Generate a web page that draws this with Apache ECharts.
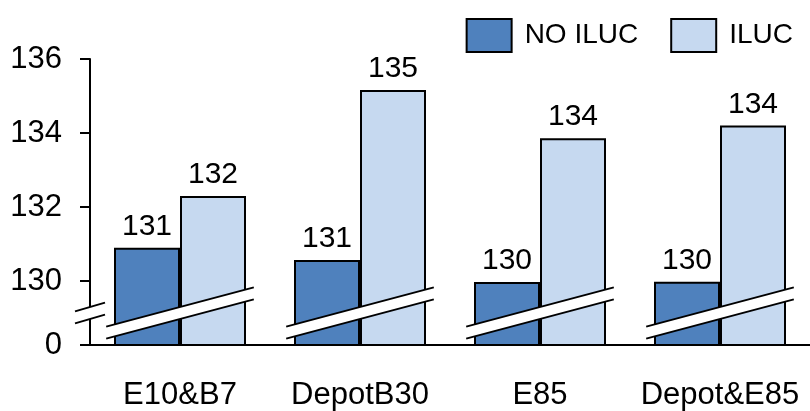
<!DOCTYPE html>
<html>
<head>
<meta charset="utf-8">
<script src="https://cdn.jsdelivr.net/npm/echarts@6/dist/echarts.min.js"></script>
<style>
  html, body { margin: 0; padding: 0; background: #fff; }
  #chart { width: 810px; height: 411px; }
</style>
</head>
<body>
<div id="chart"></div>
<script>
// Fuel pathways and their emission values, without and with ILUC
const categories = ['E10&B7', 'DepotB30', 'E85', 'Depot&E85'];
const noIluc = [130.9, 130.57, 129.97, 129.98];
const iluc = [132.3, 135.16, 133.86, 134.2];

// Broken value axis: the bottom of the axis stands for 0
const axisFloor = 128.27;
const axisTop = 136;
const tickValues = [axisFloor, 130, 132, 134, 136];
const tickLabels = ['0', '130', '132', '134', '136'];

// Level at which the break strips cross the bars
const breakLevel = 129.135;

const FONT = '"Liberation Sans", Arial, sans-serif';
const FS = 31;
const DARK = '#4f81bd';
const LIGHT = '#c6d9f0';

const chart = echarts.init(document.getElementById('chart'), null, { renderer: 'canvas' });

function strip(cx, cy, halfW, slope, thick) {
  const x1 = cx - halfW, x2 = cx + halfW;
  const yA1 = cy - thick / 2 + slope * halfW;  // upper edge, left end
  const yA2 = cy - thick / 2 - slope * halfW;  // upper edge, right end
  const yB1 = yA1 + thick, yB2 = yA2 + thick;
  return [
    { type: 'polygon', shape: { points: [[x1, yA1], [x2, yA2], [x2, yB2], [x1, yB1]] },
      style: { fill: '#fff', stroke: null } },
    { type: 'line', shape: { x1: x1, y1: yA1, x2: x2, y2: yA2 },
      style: { stroke: '#000', lineWidth: 2 } },
    { type: 'line', shape: { x1: x1, y1: yB1, x2: x2, y2: yB2 },
      style: { stroke: '#000', lineWidth: 2 } }
  ];
}

const valueLabel = {
  show: true, position: 'top', distance: 6,
  fontSize: 30, color: '#000', fontFamily: FONT,
  formatter: p => String(Math.round(p.value))
};

const option = {
  animation: false,
  backgroundColor: '#fff',
  textStyle: { fontFamily: FONT },
  legend: {
    data: ['NO ILUC', 'ILUC'],
    top: 13,
    right: 12,
    itemWidth: 45,
    itemHeight: 33,
    itemGap: 32,
    icon: 'rect',
    textStyle: { fontSize: 28, color: '#000', fontFamily: FONT, padding: [0, 0, 0, 8] }
  },
  grid: { left: 90, right: -8, top: 59, bottom: 66, containLabel: false },
  xAxis: {
    type: 'category',
    data: categories,
    axisLine: { lineStyle: { color: '#000', width: 2 } },
    axisTick: { show: false },
    axisLabel: { interval: 0, fontSize: FS, color: '#000', fontFamily: FONT, margin: 35 }
  },
  yAxis: {
    type: 'value',
    min: axisFloor,
    max: axisTop,
    splitLine: { show: false },
    axisLine: { show: true, lineStyle: { color: '#000', width: 2 } },
    axisTick: { show: true, length: 10, lineStyle: { color: '#000', width: 2 }, customValues: tickValues },
    axisLabel: {
      fontSize: FS, color: '#000', fontFamily: FONT, margin: 28,
      customValues: tickValues,
      formatter: function (v) {
        const i = tickValues.findIndex(t => Math.abs(t - v) < 1e-6);
        return i >= 0 ? tickLabels[i] : '';
      }
    }
  },
  series: [
    {
      name: 'NO ILUC',
      type: 'bar',
      data: noIluc,
      barWidth: 66,
      barGap: '0%',
      itemStyle: { color: DARK, borderColor: '#000', borderWidth: 2 },
      label: valueLabel
    },
    {
      name: 'ILUC',
      type: 'bar',
      data: iluc,
      barWidth: 66,
      barGap: '0%',
      itemStyle: { color: LIGHT, borderColor: '#000', borderWidth: 2 },
      label: valueLabel
    },
    {
      // break strips across each pair of bars, plus one on the value axis
      type: 'custom',
      z: 10,
      silent: true,
      clip: false,
      data: categories.map((c, i) => [i, breakLevel]),
      renderItem: function (params, api) {
        const p = api.coord([api.value(0), api.value(1)]);
        const band = api.size([1, 0])[0];
        const children = strip(p[0], p[1], band * 0.41, 0.266, 12);
        if (params.dataIndex === 0) {
          children.push.apply(children, strip(p[0] - band / 2, p[1], 15, 0.29, 12));
        }
        return { type: 'group', children: children };
      }
    }
  ]
};

chart.setOption(option);
</script>
</body>
</html>
